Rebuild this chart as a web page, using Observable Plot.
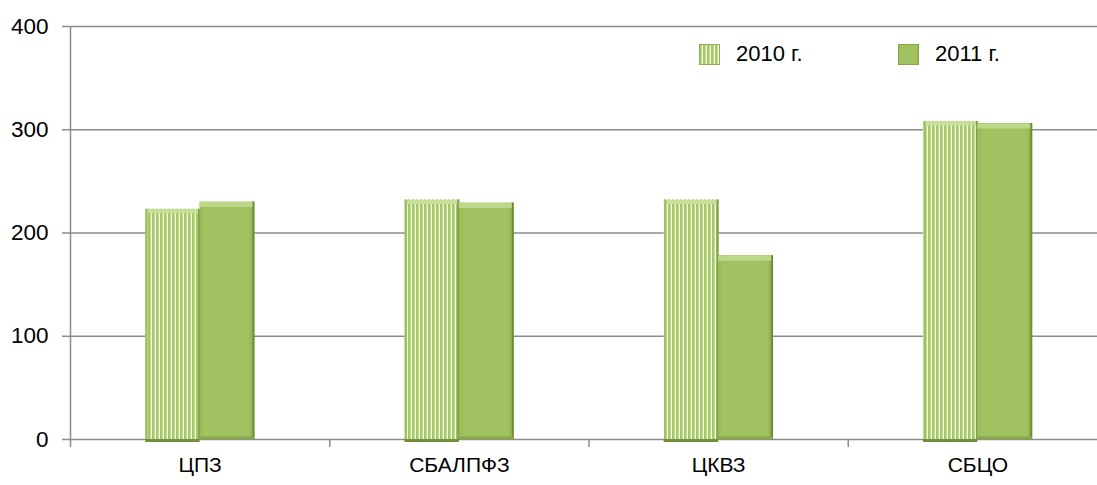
<!DOCTYPE html>
<html><head><meta charset="utf-8">
<script src="https://cdn.jsdelivr.net/npm/d3@7"></script>
<script src="https://cdn.jsdelivr.net/npm/@observablehq/plot@0.6"></script>
<style>
html,body{margin:0;padding:0;background:#fff;overflow:hidden;width:1097px;height:485px}
#wrap{position:relative;width:1097px;height:485px;overflow:hidden}
#chart svg{display:block;max-width:none !important;width:1107px;height:485px}
.leg{position:absolute;display:flex;align-items:center;font:22px "Liberation Sans",Arial,sans-serif;color:#000}
.leg svg{margin-right:16px}
</style></head><body>
<svg width="0" height="0" style="position:absolute">
<defs>
<pattern id="stripes" patternUnits="userSpaceOnUse" width="4" height="10">
 <rect width="4" height="10" fill="#f3f9e8"/>
 <rect x="0" width="2.6" height="10" fill="#a5c862"/>
</pattern>
<linearGradient id="solid" x1="0" y1="0" x2="1" y2="0">
 <stop offset="0" stop-color="#98bb58"/>
 <stop offset="0.1" stop-color="#a0c261"/>
 <stop offset="0.9" stop-color="#a0c261"/>
 <stop offset="1" stop-color="#88aa4a"/>
</linearGradient>
</defs></svg>
<div id="wrap">
<div id="chart"></div>
<div class="leg" style="left:699px;top:41px"><svg width="21" height="21"><rect x="0.5" y="0.5" width="20" height="20" fill="url(#stripes)" stroke="#8fb04f"/></svg><span>2010 г.</span></div>
<div class="leg" style="left:898px;top:41px"><svg width="21" height="21"><rect x="0.5" y="0.5" width="20" height="20" fill="url(#solid)" stroke="#84a548"/></svg><span>2011 г.</span></div>
</div>
<script>
const categories = ["ЦПЗ", "СБАЛПФЗ", "ЦКВЗ", "СБЦО"];
const values2010 = [223, 232, 232, 308];
const values2011 = [230, 229, 178, 306];
const yTicks = [0, 100, 200, 300, 400];
const seriesNames = ["2010 г.", "2011 г."];

const half = 0.21;
const rows2010 = categories.map((c, i) => ({i, c, v: values2010[i], x1: i + 0.5 - half, x2: i + 0.5}));
const rows2011 = categories.map((c, i) => ({i, c, v: values2011[i], x1: i + 0.5, x2: i + 0.5 + half}));
const grey = "#8c8c8c";

const chart = Plot.plot({
  width: 1107,
  height: 485,
  marginLeft: 70,
  marginRight: 0,
  marginTop: 26,
  marginBottom: 46,
  style: {fontFamily: "'Liberation Sans', Arial, sans-serif", fontSize: "21px", color: "#000", background: "#fff", maxWidth: "none"},
  x: {type: "linear", domain: [0, 4], axis: null},
  y: {domain: [0, 400], axis: null},
  marks: [
    Plot.gridY(yTicks, {stroke: grey, strokeOpacity: 1, strokeWidth: 1.5}),
    Plot.axisY(yTicks, {tickSize: 8, tickPadding: 14, stroke: grey, strokeWidth: 1.5, fontSize: 22.5, label: null}),
    Plot.axisX([0, 1, 2, 3, 4], {tickSize: 8, tickFormat: () => "", stroke: grey, strokeWidth: 1.5, label: null}),
    Plot.axisX(categories.map((c, i) => i + 0.5), {tickSize: 0, tickPadding: 18, tickFormat: d => categories[Math.floor(d)], fontSize: 21, label: null}),
    Plot.ruleX([0], {y1: 0, y2: 400, stroke: grey, strokeWidth: 1.5}),
    // 2010 bars (striped)
    Plot.rect(rows2010, {x1: "x1", x2: "x2", y1: 0, y2: "v", fill: "url(#stripes)"}),
    Plot.ruleY(rows2010, {y: "v", x1: "x1", x2: "x2", stroke: "#c6e09a", strokeWidth: 4, dy: 2}),
    Plot.ruleX(rows2010, {x: "x2", y1: 0, y2: "v", stroke: "#7e9f43", strokeWidth: 2, dx: -1}),
    Plot.ruleX(rows2010, {x: "x1", y1: 0, y2: "v", stroke: "#9cc05b", strokeWidth: 2, dx: 1}),
    Plot.ruleY(rows2010, {y: 0, x1: "x1", x2: "x2", stroke: "#6f8f3a", strokeWidth: 3, dy: 1}),
    // 2011 bars (solid bevel)
    Plot.rect(rows2011, {x1: "x1", x2: "x2", y1: 0, y2: "v", fill: "url(#solid)"}),
    Plot.ruleY(rows2011, {y: "v", x1: "x1", x2: "x2", stroke: "#bcd98a", strokeWidth: 5, dy: 2.5}),
    Plot.ruleX(rows2011, {x: "x2", y1: 0, y2: "v", stroke: "#6d8c36", strokeWidth: 2, dx: -1}),
    Plot.ruleY(rows2011, {y: 0, x1: "x1", x2: "x2", stroke: "#87a84b", strokeWidth: 3, dy: -1.5})
  ]
});
document.getElementById("chart").appendChild(chart);
</script>
</body></html>
